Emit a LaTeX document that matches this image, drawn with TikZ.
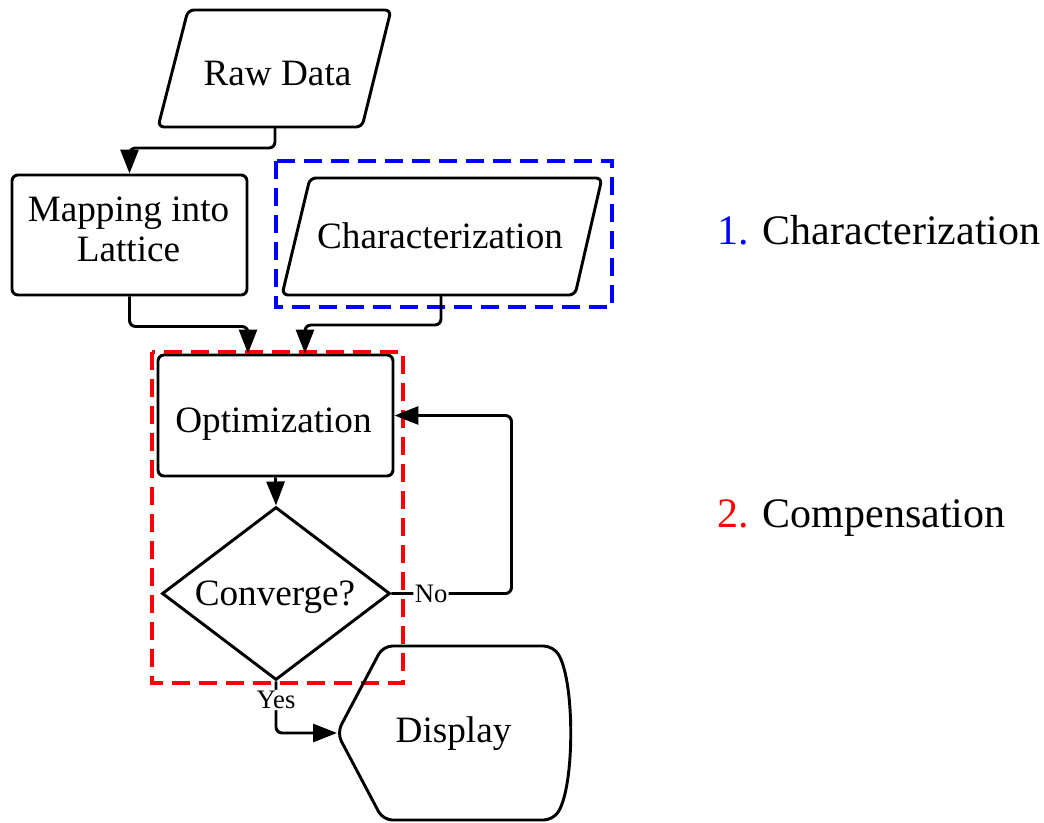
\documentclass[tikz,border=0pt]{standalone}
\usepackage{fontspec}
\setmainfont{Liberation Serif}
\usetikzlibrary{arrows.meta,shapes.geometric,calc}

\newcommand\mainsz{\fontsize{27.9}{30}\selectfont}
\newcommand\tagsz{\fontsize{20}{22}\selectfont}
\newcommand\sidesz{\fontsize{31.5}{36}\selectfont}

\tikzset{
  box/.style={draw, line width=2.2pt, rounded corners=4.5pt, inner sep=0pt},
  outline/.style={draw, line width=2.2pt, rounded corners=4.5pt},
  flow/.style={line width=2.2pt, rounded corners=4.5pt, -{Triangle[length=18pt,width=13.5pt]}},
  group/.style={line width=3pt, dash pattern=on 13.5pt off 6.75pt},
  tag/.style={font=\tagsz, fill=white, inner sep=1pt},
  label/.style={font=\mainsz, align=center, inner sep=0pt},
  side/.style={font=\sidesz, inner sep=0pt, anchor=base west},
}

\begin{document}
\begin{tikzpicture}[x=0.75pt, y=-0.75pt]
\useasboundingbox (0,0) rectangle (1044,823);

% Raw Data (input parallelogram)
\draw[outline] (158,127) -- (188,10) -- (391,10) -- (362,127) -- cycle;
\node[label, anchor=base] (raw) at (277.5,86) {Raw Data};
\coordinate (rawb) at (275,127);

% Mapping into Lattice
\node[box, minimum width=176.25pt, minimum height=90pt] (map) at (129.5,235) {};
\node[label] (maptxt) at (128.5,229.5) {Mapping into\\Lattice};

% Characterization (input parallelogram) with its blue group frame
\draw[outline] (282,295) -- (310,178) -- (602,178) -- (575,295) -- cycle;
\node[label, anchor=base] (char) at (440,248) {Characterization};
\coordinate (charb) at (441,295);
\draw[group, blue] (276,161) rectangle (612,307);

% Optimization
\node[box, minimum width=176.25pt, minimum height=90.75pt] (opt) at (275.5,415.5) {};
\node[label, anchor=base] (opttxt) at (273.5,432) {Optimization};

% Converge? decision
\node[diamond, draw, line width=2.2pt, inner sep=0pt,
      minimum width=171pt, minimum height=129.75pt] (conv) at (276,593.5) {};
\node[label, anchor=base] (convtxt) at (275,605) {Converge?};

% red group frame
\draw[group, red] (152,352) rectangle (403,683);

% Display
\draw[outline, rounded corners=7pt] (337,733) -- (383,646) -- (553,646)
  .. controls (575,680) and (575,786) .. (553,820) -- (383,820) -- cycle;
\node[label, anchor=base] (disp) at (453.5,742) {Display};
\coordinate (dispw) at (337,733);

% connectors
\draw[flow] (rawb) -- ++(0,21) -| (map.north);
\draw[flow] (map.south) -- ++(0,30) -| ($(opt.north)+(-27.5,0)$);
\draw[flow] (charb) -- ++(0,30) -| ($(opt.north)+(29.5,0)$);
\draw[flow] (opt.south) -- (conv.north);
\draw[flow] (conv.east) -- node[tag, pos=0.33] {No} ++(120,0) |- (opt.east);
\draw[flow] (conv.south) -- node[tag, pos=0.36] {Yes} (conv.south |- dispw) -- (dispw);

% legend
\node[side] (lab1) at (717,245) {\textcolor{blue}{1.} Characterization};
\node[side] (lab2) at (717,527) {\textcolor{red}{2.} Compensation};
\end{tikzpicture}
\end{document}
